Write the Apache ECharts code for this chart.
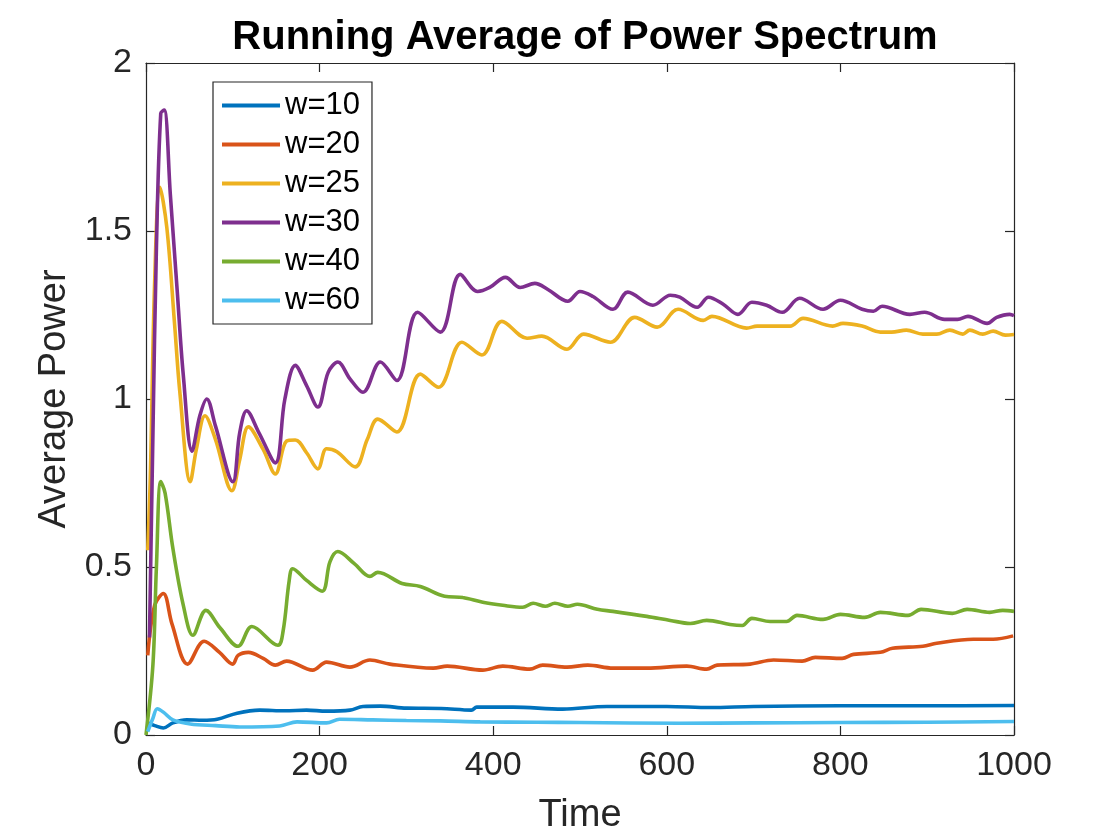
<!DOCTYPE html>
<html>
<head>
<meta charset="utf-8">
<script src="https://cdn.jsdelivr.net/npm/echarts@6/dist/echarts.min.js"></script>
<style>html,body{margin:0;padding:0;background:#fff}#c{width:1120px;height:840px}</style>
</head>
<body>
<div id="c"></div>
<script>
const seriesNames = ['w=10', 'w=20', 'w=25', 'w=30', 'w=40', 'w=60'];
const xTicks = [0, 200, 400, 600, 800, 1000];
const yTicks = [0, 0.5, 1, 1.5, 2];

const w10x = [2, 10, 20, 31, 47, 65, 82, 105, 131, 160, 185, 208, 235, 250, 270, 300, 340, 375, 381, 423, 480, 531, 600, 650, 700, 800, 900, 1000];
const w10y = [0.036, 0.028, 0.021, 0.036, 0.045, 0.044, 0.047, 0.065, 0.074, 0.072, 0.074, 0.071, 0.074, 0.085, 0.086, 0.080, 0.079, 0.074, 0.083, 0.083, 0.077, 0.085, 0.085, 0.082, 0.085, 0.087, 0.087, 0.088];

const w20x = [2, 10, 20, 30, 48, 67, 85, 100, 106, 118, 135, 149, 162, 192, 208, 235, 258, 281, 331, 347, 388, 411, 442, 457, 485, 509, 538, 577, 623, 646, 658, 696, 723, 756, 771, 802, 815, 846, 860, 895, 911, 953, 976, 999];
const w20y = [0.237, 0.386, 0.421, 0.33, 0.211, 0.279, 0.245, 0.211, 0.237, 0.246, 0.228, 0.208, 0.22, 0.193, 0.217, 0.202, 0.223, 0.211, 0.199, 0.205, 0.193, 0.205, 0.196, 0.208, 0.202, 0.208, 0.199, 0.199, 0.205, 0.196, 0.208, 0.211, 0.223, 0.220, 0.231, 0.228, 0.240, 0.246, 0.258, 0.264, 0.273, 0.285, 0.285, 0.295];

const w25x = [2, 5, 10, 16, 24, 33, 39, 51, 58, 68, 80, 99, 108, 118, 135, 149, 162, 172, 185, 198, 208, 220, 241, 255, 267, 289, 316, 337, 364, 387, 410, 439, 456, 485, 504, 535, 563, 589, 613, 642, 652, 692, 704, 742, 757, 791, 803, 825, 846, 859, 876, 895, 911, 926, 941, 949, 964, 976, 990, 1000];
const w25y = [0.55, 0.77, 1.35, 1.63, 1.51, 1.22, 1.02, 0.754, 0.85, 0.95, 0.88, 0.727, 0.82, 0.917, 0.85, 0.777, 0.875, 0.878, 0.84, 0.792, 0.852, 0.843, 0.798, 0.88, 0.94, 0.902, 1.074, 1.035, 1.169, 1.131, 1.231, 1.181, 1.187, 1.148, 1.193, 1.169, 1.243, 1.214, 1.267, 1.234, 1.246, 1.211, 1.217, 1.217, 1.240, 1.217, 1.225, 1.217, 1.199, 1.199, 1.205, 1.193, 1.193, 1.205, 1.193, 1.205, 1.193, 1.202, 1.190, 1.192];

const w30x = [4, 8, 12, 17, 21, 28, 36, 43, 53, 62, 70, 80, 100, 108, 116, 130, 149, 160, 172, 185, 198, 210, 221, 235, 250, 270, 289, 313, 339, 362, 382, 396, 414, 431, 448, 463, 486, 500, 515, 538, 555, 584, 604, 615, 635, 648, 665, 682, 698, 715, 733, 753, 780, 800, 825, 838, 848, 880, 897, 920, 935, 947, 969, 980, 995, 1000];
const w30y = [0.29, 0.9, 1.45, 1.85, 1.86, 1.61, 1.32, 1.07, 0.845, 0.95, 1.0, 0.92, 0.754, 0.9, 0.965, 0.9, 0.81, 1.0, 1.10, 1.04, 0.976, 1.08, 1.11, 1.06, 1.02, 1.11, 1.055, 1.258, 1.199, 1.371, 1.32, 1.332, 1.362, 1.332, 1.344, 1.326, 1.291, 1.32, 1.305, 1.267, 1.318, 1.279, 1.309, 1.303, 1.273, 1.303, 1.282, 1.252, 1.288, 1.279, 1.258, 1.30, 1.267, 1.294, 1.267, 1.261, 1.276, 1.252, 1.258, 1.237, 1.237, 1.246, 1.225, 1.243, 1.252, 1.248];

const w40x = [0, 8, 12, 17, 22, 31, 43, 54, 69, 85, 106, 122, 152, 158, 165, 169, 185, 203, 212, 221, 240, 258, 267, 295, 316, 344, 365, 388, 411, 434, 446, 460, 471, 486, 497, 520, 538, 577, 604, 627, 646, 673, 687, 698, 719, 738, 750, 780, 800, 828, 846, 878, 893, 929, 946, 972, 987, 1000];
const w40y = [0.0, 0.21, 0.50, 0.754, 0.72, 0.555, 0.386, 0.297, 0.371, 0.32, 0.264, 0.323, 0.267, 0.31, 0.46, 0.495, 0.46, 0.428, 0.516, 0.546, 0.51, 0.472, 0.484, 0.451, 0.442, 0.413, 0.409, 0.395, 0.386, 0.380, 0.392, 0.383, 0.392, 0.383, 0.389, 0.374, 0.368, 0.353, 0.341, 0.332, 0.341, 0.329, 0.326, 0.347, 0.338, 0.338, 0.356, 0.344, 0.359, 0.350, 0.365, 0.356, 0.374, 0.362, 0.374, 0.365, 0.371, 0.368];

const w60x = [2, 8, 13, 20, 31, 51, 80, 108, 154, 174, 208, 223, 261, 300, 339, 385, 450, 500, 615, 700, 800, 900, 1000];
const w60y = [0.01, 0.05, 0.078, 0.068, 0.045, 0.033, 0.028, 0.024, 0.027, 0.039, 0.036, 0.047, 0.045, 0.043, 0.042, 0.039, 0.038, 0.037, 0.035, 0.036, 0.037, 0.038, 0.040];

const colors = ['#0072BD', '#D95319', '#EDB120', '#7E2F8E', '#77AC30', '#4DBEEE'];
const xs = [w10x, w20x, w25x, w30x, w40x, w60x];
const ys = [w10y, w20y, w25y, w30y, w40y, w60y];

const FONT = 'Liberation Sans, Arial, Helvetica, sans-serif';
const AX = '#262626';

const chart = echarts.init(document.getElementById('c'), null, {renderer: 'canvas'});

function axisCommon(showLabel) {
  return {
    axisLine: {show: true, onZero: false, lineStyle: {color: AX, width: 1.2}},
    axisTick: {show: true, inside: true, length: 9, lineStyle: {color: AX, width: 1.2}},
    splitLine: {show: false},
    axisLabel: {show: showLabel, color: AX, fontFamily: FONT, fontSize: 34, margin: 14,
      formatter: v => String(v)}
  };
}

const option = {
  backgroundColor: '#fff',
  animation: false,
  color: colors,
  title: {
    text: 'Running Average of Power Spectrum',
    left: 580, textAlign: 'center', top: 13,
    textStyle: {fontFamily: FONT, fontSize: 40, fontWeight: 'bold', color: '#000'}
  },
  legend: {
    orient: 'vertical', left: 213, top: 82,
    data: seriesNames,
    icon: 'rect', itemWidth: 58, itemHeight: 4, itemGap: 8,
    padding: [8, 12, 8, 9],
    backgroundColor: '#fff', borderColor: AX, borderWidth: 1.2, borderRadius: 0,
    textStyle: {fontFamily: FONT, fontSize: 31, color: '#000', lineHeight: 31}
  },
  grid: {left: 146, right: 106, top: 63, bottom: 103, containLabel: false},
  xAxis: [
    Object.assign({type: 'value', min: 0, max: 1000, interval: 200, position: 'bottom',
      name: 'Time', nameLocation: 'middle', nameGap: 62,
      nameTextStyle: {fontFamily: FONT, fontSize: 38, color: AX}}, axisCommon(true)),
    Object.assign({type: 'value', min: 0, max: 1000, interval: 200, position: 'top'}, axisCommon(false))
  ],
  yAxis: [
    Object.assign({type: 'value', min: 0, max: 2, interval: 0.5, position: 'left',
      name: 'Average Power', nameLocation: 'middle', nameGap: 72, nameRotate: 90,
      nameTextStyle: {fontFamily: FONT, fontSize: 38, color: AX}}, axisCommon(true)),
    Object.assign({type: 'value', min: 0, max: 2, interval: 0.5, position: 'right'}, axisCommon(false))
  ],
  series: seriesNames.map((n, i) => ({
    name: n, type: 'line', xAxisIndex: 0, yAxisIndex: 0,
    data: xs[i].map((x, j) => [x, ys[i][j]]),
    showSymbol: false, symbol: 'none', smooth: 0.35,
    lineStyle: {width: 3.6, color: colors[i]},
    itemStyle: {color: colors[i]},
    z: 2 + i
  }))
};
chart.setOption(option);
</script>
</body>
</html>
